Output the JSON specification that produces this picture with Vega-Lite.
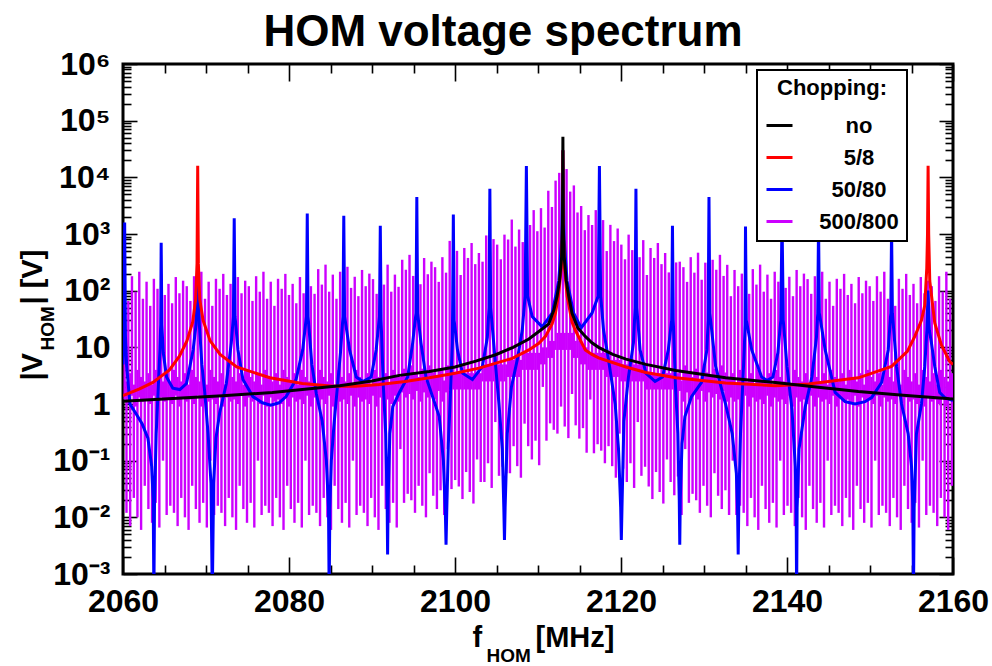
{
"$schema":"https://vega.github.io/schema/vega-lite/v6.json",
"width":830,"height":510,
"autosize":{"type":"none"},
"padding":{"left":123,"top":64,"right":39,"bottom":92},
"background":"white",
"title":{"text":"HOM voltage spectrum","fontSize":44,"fontWeight":"bold","font":"Liberation Sans","color":"black","anchor":"middle","frame":"group","dx":-35,"offset":-42,"baseline":"alphabetic"},
"config":{
"font":"Liberation Sans",
"view":{"stroke":"black","strokeWidth":3},
"axis":{"grid":false,"domain":false,"tickColor":"black","tickWidth":1.6,"labelFont":"Liberation Sans","labelFontWeight":"bold","labelColor":"black","labelFontSize":32,"titleFont":"Liberation Sans","titleFontWeight":"bold","titleColor":"black","labelFlush":false,"labelOverlap":false,"labelBound":false,"titlePadding":0}
},
"resolve":{"axis":{"x":"independent","y":"independent"}},
"datasets":{
"p500":[
{"f":2060.2,"lo":1.2,"hi":120},{"f":2060.42,"lo":0.012,"hi":2.5},
{"f":2060.64,"lo":1.0,"hi":66},{"f":2060.86,"lo":0.007,"hi":3.5},
{"f":2061.08,"lo":1.4,"hi":180},{"f":2061.3,"lo":0.022,"hi":2.2},
{"f":2061.52,"lo":0.9,"hi":96},{"f":2061.74,"lo":0.01,"hi":4},
{"f":2061.96,"lo":1.3,"hi":216},{"f":2062.18,"lo":0.006,"hi":3},
{"f":2062.4,"lo":1.1,"hi":72},{"f":2062.62,"lo":0.036,"hi":2.5},
{"f":2062.84,"lo":1.2,"hi":144},{"f":2063.06,"lo":0.014,"hi":3.5},
{"f":2063.28,"lo":1.0,"hi":54},{"f":2063.5,"lo":0.008,"hi":2.2},
{"f":2063.72,"lo":1.4,"hi":162},{"f":2063.94,"lo":0.018,"hi":4},
{"f":2064.16,"lo":0.9,"hi":108},{"f":2064.38,"lo":0.0066,"hi":3},
{"f":2064.6,"lo":1.3,"hi":198},{"f":2064.82,"lo":0.1,"hi":2.5},
{"f":2065.04,"lo":1.1,"hi":84},{"f":2065.26,"lo":0.011,"hi":3.5},
{"f":2065.48,"lo":1.2,"hi":132},{"f":2065.7,"lo":0.016,"hi":2.2},
{"f":2065.92,"lo":1.0,"hi":60},{"f":2066.14,"lo":0.012,"hi":4},
{"f":2066.36,"lo":1.4,"hi":174},{"f":2066.58,"lo":0.007,"hi":3},
{"f":2066.8,"lo":0.9,"hi":90},{"f":2067.02,"lo":0.022,"hi":2.5},
{"f":2067.24,"lo":1.3,"hi":150},{"f":2067.46,"lo":0.01,"hi":3.5},
{"f":2067.68,"lo":1.1,"hi":120},{"f":2067.9,"lo":0.006,"hi":2.2},
{"f":2068.12,"lo":1.2,"hi":66},{"f":2068.34,"lo":0.036,"hi":4},
{"f":2068.56,"lo":1.0,"hi":180},{"f":2068.78,"lo":0.014,"hi":3},
{"f":2069,"lo":1.4,"hi":96},{"f":2069.22,"lo":0.008,"hi":2.5},
{"f":2069.44,"lo":0.9,"hi":216},{"f":2069.66,"lo":0.018,"hi":3.5},
{"f":2069.88,"lo":1.3,"hi":72},{"f":2070.1,"lo":0.0066,"hi":2.2},
{"f":2070.32,"lo":1.1,"hi":144},{"f":2070.54,"lo":0.1,"hi":4},
{"f":2070.76,"lo":1.2,"hi":54},{"f":2070.98,"lo":0.011,"hi":3},
{"f":2071.2,"lo":1.0,"hi":162},{"f":2071.42,"lo":0.016,"hi":2.5},
{"f":2071.64,"lo":1.4,"hi":108},{"f":2071.86,"lo":0.012,"hi":3.5},
{"f":2072.08,"lo":0.9,"hi":198},{"f":2072.3,"lo":0.007,"hi":2.2},
{"f":2072.52,"lo":1.3,"hi":84},{"f":2072.74,"lo":0.022,"hi":4},
{"f":2072.96,"lo":1.1,"hi":132},{"f":2073.18,"lo":0.01,"hi":3},
{"f":2073.4,"lo":1.2,"hi":60},{"f":2073.62,"lo":0.006,"hi":2.5},
{"f":2073.84,"lo":1.0,"hi":174},{"f":2074.06,"lo":0.036,"hi":3.5},
{"f":2074.28,"lo":1.4,"hi":90},{"f":2074.5,"lo":0.014,"hi":2.2},
{"f":2074.72,"lo":0.9,"hi":150},{"f":2074.94,"lo":0.008,"hi":4},
{"f":2075.16,"lo":1.3,"hi":120},{"f":2075.38,"lo":0.018,"hi":3},
{"f":2075.6,"lo":1.1,"hi":66},{"f":2075.82,"lo":0.0066,"hi":2.5},
{"f":2076.04,"lo":1.2,"hi":180},{"f":2076.26,"lo":0.1,"hi":3.5},
{"f":2076.48,"lo":1.0,"hi":96},{"f":2076.7,"lo":0.011,"hi":2.2},
{"f":2076.92,"lo":1.4,"hi":216},{"f":2077.14,"lo":0.016,"hi":4},
{"f":2077.36,"lo":0.9,"hi":72},{"f":2077.58,"lo":0.012,"hi":3},
{"f":2077.8,"lo":1.3,"hi":144},{"f":2078.02,"lo":0.007,"hi":2.5},
{"f":2078.24,"lo":1.1,"hi":54},{"f":2078.46,"lo":0.022,"hi":3.5},
{"f":2078.68,"lo":1.2,"hi":162},{"f":2078.9,"lo":0.01,"hi":2.2},
{"f":2079.12,"lo":1.0,"hi":108},{"f":2079.34,"lo":0.006,"hi":4},
{"f":2079.56,"lo":1.4,"hi":198},{"f":2079.78,"lo":0.036,"hi":3},
{"f":2080,"lo":0.9,"hi":84},{"f":2080.22,"lo":0.014,"hi":2.5},
{"f":2080.44,"lo":1.3,"hi":132},{"f":2080.66,"lo":0.008,"hi":3.5},
{"f":2080.88,"lo":1.1,"hi":60},{"f":2081.1,"lo":0.018,"hi":2.2},
{"f":2081.32,"lo":1.2,"hi":174},{"f":2081.54,"lo":0.0066,"hi":4},
{"f":2081.76,"lo":1.0,"hi":90},{"f":2081.98,"lo":0.1,"hi":3},
{"f":2082.2,"lo":1.4,"hi":150},{"f":2082.42,"lo":0.011,"hi":2.5},
{"f":2082.64,"lo":0.9,"hi":120},{"f":2082.86,"lo":0.016,"hi":3.5},
{"f":2083.08,"lo":1.3,"hi":88},{"f":2083.3,"lo":0.012,"hi":2.2},
{"f":2083.52,"lo":1.1,"hi":240},{"f":2083.74,"lo":0.007,"hi":4},
{"f":2083.96,"lo":1.2,"hi":128},{"f":2084.18,"lo":0.022,"hi":3},
{"f":2084.4,"lo":1.0,"hi":288},{"f":2084.62,"lo":0.01,"hi":2.5},
{"f":2084.84,"lo":1.4,"hi":96},{"f":2085.06,"lo":0.006,"hi":3.5},
{"f":2085.28,"lo":0.9,"hi":192},{"f":2085.5,"lo":0.036,"hi":2.2},
{"f":2085.72,"lo":1.3,"hi":72},{"f":2085.94,"lo":0.014,"hi":4},
{"f":2086.16,"lo":1.1,"hi":216},{"f":2086.38,"lo":0.008,"hi":3},
{"f":2086.6,"lo":1.2,"hi":144},{"f":2086.82,"lo":0.018,"hi":2.5},
{"f":2087.04,"lo":1.0,"hi":264},{"f":2087.26,"lo":0.0066,"hi":3.5},
{"f":2087.48,"lo":1.4,"hi":112},{"f":2087.7,"lo":0.1,"hi":2.2},
{"f":2087.92,"lo":0.9,"hi":176},{"f":2088.14,"lo":0.011,"hi":4},
{"f":2088.36,"lo":1.3,"hi":80},{"f":2088.58,"lo":0.016,"hi":3},
{"f":2088.8,"lo":1.1,"hi":232},{"f":2089.02,"lo":0.012,"hi":2.5},
{"f":2089.24,"lo":1.2,"hi":120},{"f":2089.46,"lo":0.007,"hi":3.5},
{"f":2089.68,"lo":1.0,"hi":200},{"f":2089.9,"lo":0.022,"hi":2.2},
{"f":2090.12,"lo":1.4,"hi":160},{"f":2090.34,"lo":0.01,"hi":4},
{"f":2090.56,"lo":0.9,"hi":88},{"f":2090.78,"lo":0.006,"hi":3},
{"f":2091,"lo":1.3,"hi":240},{"f":2091.22,"lo":0.036,"hi":2.5},
{"f":2091.44,"lo":1.1,"hi":128},{"f":2091.66,"lo":0.014,"hi":3.5},
{"f":2091.88,"lo":1.2,"hi":288},{"f":2092.1,"lo":0.008,"hi":2.2},
{"f":2092.32,"lo":1.0,"hi":96},{"f":2092.54,"lo":0.018,"hi":4},
{"f":2092.76,"lo":1.4,"hi":192},{"f":2092.98,"lo":0.0066,"hi":3},
{"f":2093.2,"lo":1.1,"hi":117},{"f":2093.42,"lo":0.16,"hi":3},
{"f":2093.64,"lo":1.6,"hi":351},{"f":2093.86,"lo":0.018,"hi":4.2},
{"f":2094.08,"lo":1.3,"hi":234},{"f":2094.3,"lo":0.026,"hi":2.6},
{"f":2094.52,"lo":1.5,"hi":429},{"f":2094.74,"lo":0.02,"hi":4.8},
{"f":2094.96,"lo":1.2,"hi":182},{"f":2095.18,"lo":0.012,"hi":3.6},
{"f":2095.4,"lo":1.7,"hi":286},{"f":2095.62,"lo":0.036,"hi":3},
{"f":2095.84,"lo":1.1,"hi":130},{"f":2096.06,"lo":0.016,"hi":4.2},
{"f":2096.28,"lo":1.6,"hi":377},{"f":2096.5,"lo":0.01,"hi":2.6},
{"f":2096.72,"lo":1.3,"hi":195},{"f":2096.94,"lo":0.06,"hi":4.8},
{"f":2097.16,"lo":1.5,"hi":325},{"f":2097.38,"lo":0.024,"hi":3.6},
{"f":2097.6,"lo":1.2,"hi":260},{"f":2097.82,"lo":0.014,"hi":3},
{"f":2098.04,"lo":1.7,"hi":143},{"f":2098.26,"lo":0.03,"hi":4.2},
{"f":2098.48,"lo":1.1,"hi":390},{"f":2098.7,"lo":0.011,"hi":2.6},
{"f":2098.92,"lo":1.6,"hi":208},{"f":2099.14,"lo":0.16,"hi":4.8},
{"f":2099.36,"lo":1.8,"hi":756},{"f":2099.58,"lo":0.0315,"hi":3.5},
{"f":2099.8,"lo":1.8,"hi":252},{"f":2100.02,"lo":0.0455,"hi":3.5},
{"f":2100.24,"lo":1.8,"hi":504},{"f":2100.46,"lo":0.035,"hi":3.5},
{"f":2100.68,"lo":1.8,"hi":189},{"f":2100.9,"lo":0.021,"hi":3.5},
{"f":2101.12,"lo":1.8,"hi":567},{"f":2101.34,"lo":0.063,"hi":3.5},
{"f":2101.56,"lo":1.8,"hi":378},{"f":2101.78,"lo":0.028,"hi":3.5},
{"f":2102,"lo":1.8,"hi":693},{"f":2102.22,"lo":0.0175,"hi":3.5},
{"f":2102.44,"lo":1.8,"hi":294},{"f":2102.66,"lo":0.105,"hi":3.5},
{"f":2102.88,"lo":1.8,"hi":462},{"f":2103.1,"lo":0.042,"hi":3.5},
{"f":2103.32,"lo":2.5,"hi":325},{"f":2103.54,"lo":0.042,"hi":5},
{"f":2103.76,"lo":2.5,"hi":943},{"f":2103.98,"lo":0.09,"hi":5},
{"f":2104.2,"lo":2.5,"hi":488},{"f":2104.42,"lo":0.033,"hi":5},
{"f":2104.64,"lo":2.5,"hi":813},{"f":2104.86,"lo":0.48,"hi":5},
{"f":2105.08,"lo":2.5,"hi":650},{"f":2105.3,"lo":0.054,"hi":5},
{"f":2105.52,"lo":2.5,"hi":358},{"f":2105.74,"lo":0.078,"hi":5},
{"f":2105.96,"lo":2.5,"hi":975},{"f":2106.18,"lo":0.06,"hi":5},
{"f":2106.4,"lo":3,"hi":800},{"f":2106.62,"lo":0.06,"hi":6},
{"f":2106.84,"lo":3,"hi":1800},{"f":2107.06,"lo":0.18,"hi":6},
{"f":2107.28,"lo":3,"hi":600},{"f":2107.5,"lo":0.08,"hi":6},
{"f":2107.72,"lo":3,"hi":1200},{"f":2107.94,"lo":0.05,"hi":6},
{"f":2108.16,"lo":4,"hi":720},{"f":2108.38,"lo":0.45,"hi":8},
{"f":2108.6,"lo":4,"hi":2160},{"f":2108.82,"lo":0.18,"hi":8},
{"f":2109.04,"lo":4,"hi":1440},{"f":2109.26,"lo":0.105,"hi":8},
{"f":2109.48,"lo":4,"hi":2640},{"f":2109.7,"lo":0.225,"hi":8},
{"f":2109.92,"lo":4,"hi":1120},{"f":2110.14,"lo":0.083,"hi":8},
{"f":2110.36,"lo":5,"hi":2860},{"f":2110.58,"lo":2,"hi":10},
{"f":2110.8,"lo":5,"hi":1300},{"f":2111.02,"lo":0.225,"hi":10},
{"f":2111.24,"lo":6.5,"hi":5800},{"f":2111.46,"lo":0.455,"hi":13},
{"f":2111.68,"lo":6.5,"hi":3000},{"f":2111.9,"lo":0.35,"hi":13},
{"f":2112.12,"lo":9,"hi":8750},{"f":2112.34,"lo":0.3,"hi":18},
{"f":2112.56,"lo":9,"hi":12000},{"f":2112.78,"lo":0.9,"hi":18},
{"f":2113,"lo":9,"hi":16000},{"f":2113.22,"lo":0.4,"hi":18},
{"f":2113.44,"lo":9,"hi":14000},{"f":2113.66,"lo":0.25,"hi":18},
{"f":2113.88,"lo":9,"hi":5600},{"f":2114.1,"lo":1.5,"hi":18},
{"f":2114.32,"lo":6.5,"hi":7200},{"f":2114.54,"lo":0.42,"hi":13},
{"f":2114.76,"lo":6.5,"hi":2400},{"f":2114.98,"lo":0.245,"hi":13},
{"f":2115.2,"lo":5,"hi":3120},{"f":2115.42,"lo":0.375,"hi":10},
{"f":2115.64,"lo":5,"hi":1170},{"f":2115.86,"lo":0.138,"hi":10},
{"f":2116.08,"lo":4,"hi":2160},{"f":2116.3,"lo":1.2,"hi":8},
{"f":2116.52,"lo":4,"hi":1440},{"f":2116.74,"lo":0.135,"hi":8},
{"f":2116.96,"lo":4,"hi":2640},{"f":2117.18,"lo":0.195,"hi":8},
{"f":2117.4,"lo":4,"hi":1120},{"f":2117.62,"lo":0.15,"hi":8},
{"f":2117.84,"lo":4,"hi":1760},{"f":2118.06,"lo":0.09,"hi":8},
{"f":2118.28,"lo":3,"hi":500},{"f":2118.5,"lo":0.18,"hi":6},
{"f":2118.72,"lo":3,"hi":1450},{"f":2118.94,"lo":0.08,"hi":6},
{"f":2119.16,"lo":3,"hi":750},{"f":2119.38,"lo":0.05,"hi":6},
{"f":2119.6,"lo":3,"hi":1250},{"f":2119.82,"lo":0.3,"hi":6},
{"f":2120.04,"lo":2.5,"hi":650},{"f":2120.26,"lo":0.072,"hi":5},
{"f":2120.48,"lo":2.5,"hi":358},{"f":2120.7,"lo":0.042,"hi":5},
{"f":2120.92,"lo":2.5,"hi":975},{"f":2121.14,"lo":0.09,"hi":5},
{"f":2121.36,"lo":2.5,"hi":520},{"f":2121.58,"lo":0.033,"hi":5},
{"f":2121.8,"lo":2.5,"hi":1170},{"f":2122.02,"lo":0.48,"hi":5},
{"f":2122.24,"lo":2.5,"hi":390},{"f":2122.46,"lo":0.054,"hi":5},
{"f":2122.68,"lo":2.5,"hi":780},{"f":2122.9,"lo":0.078,"hi":5},
{"f":2123.12,"lo":1.8,"hi":189},{"f":2123.34,"lo":0.035,"hi":3.5},
{"f":2123.56,"lo":1.8,"hi":567},{"f":2123.78,"lo":0.021,"hi":3.5},
{"f":2124,"lo":1.8,"hi":378},{"f":2124.22,"lo":0.063,"hi":3.5},
{"f":2124.44,"lo":1.8,"hi":693},{"f":2124.66,"lo":0.028,"hi":3.5},
{"f":2124.88,"lo":1.8,"hi":294},{"f":2125.1,"lo":0.0175,"hi":3.5},
{"f":2125.32,"lo":1.8,"hi":462},{"f":2125.54,"lo":0.105,"hi":3.5},
{"f":2125.76,"lo":1.8,"hi":210},{"f":2125.98,"lo":0.042,"hi":3.5},
{"f":2126.2,"lo":1.8,"hi":609},{"f":2126.42,"lo":0.0245,"hi":3.5},
{"f":2126.64,"lo":1.8,"hi":315},{"f":2126.86,"lo":0.0525,"hi":3.5},
{"f":2127.08,"lo":1.7,"hi":325},{"f":2127.3,"lo":0.011,"hi":2.6},
{"f":2127.52,"lo":1.1,"hi":260},{"f":2127.74,"lo":0.16,"hi":4.8},
{"f":2127.96,"lo":1.6,"hi":143},{"f":2128.18,"lo":0.018,"hi":3.6},
{"f":2128.4,"lo":1.3,"hi":390},{"f":2128.62,"lo":0.026,"hi":3},
{"f":2128.84,"lo":1.5,"hi":208},{"f":2129.06,"lo":0.02,"hi":4.2},
{"f":2129.28,"lo":1.2,"hi":468},{"f":2129.5,"lo":0.012,"hi":2.6},
{"f":2129.72,"lo":1.7,"hi":156},{"f":2129.94,"lo":0.036,"hi":4.8},
{"f":2130.16,"lo":1.1,"hi":312},{"f":2130.38,"lo":0.016,"hi":3.6},
{"f":2130.6,"lo":1.6,"hi":117},{"f":2130.82,"lo":0.01,"hi":3},
{"f":2131.04,"lo":1.3,"hi":351},{"f":2131.26,"lo":0.06,"hi":4.2},
{"f":2131.48,"lo":1.5,"hi":234},{"f":2131.7,"lo":0.024,"hi":2.6},
{"f":2131.92,"lo":1.2,"hi":429},{"f":2132.14,"lo":0.014,"hi":4.8},
{"f":2132.36,"lo":1.7,"hi":182},{"f":2132.58,"lo":0.03,"hi":3.6},
{"f":2132.8,"lo":1.1,"hi":286},{"f":2133.02,"lo":0.011,"hi":3},
{"f":2133.24,"lo":1.3,"hi":80},{"f":2133.46,"lo":0.1,"hi":3.5},
{"f":2133.68,"lo":1.1,"hi":232},{"f":2133.9,"lo":0.011,"hi":2.2},
{"f":2134.12,"lo":1.2,"hi":120},{"f":2134.34,"lo":0.016,"hi":4},
{"f":2134.56,"lo":1.0,"hi":200},{"f":2134.78,"lo":0.012,"hi":3},
{"f":2135,"lo":1.4,"hi":160},{"f":2135.22,"lo":0.007,"hi":2.5},
{"f":2135.44,"lo":0.9,"hi":88},{"f":2135.66,"lo":0.022,"hi":3.5},
{"f":2135.88,"lo":1.3,"hi":240},{"f":2136.1,"lo":0.01,"hi":2.2},
{"f":2136.32,"lo":1.1,"hi":128},{"f":2136.54,"lo":0.006,"hi":4},
{"f":2136.76,"lo":1.2,"hi":288},{"f":2136.98,"lo":0.036,"hi":3},
{"f":2137.2,"lo":1.0,"hi":96},{"f":2137.42,"lo":0.014,"hi":2.5},
{"f":2137.64,"lo":1.4,"hi":192},{"f":2137.86,"lo":0.008,"hi":3.5},
{"f":2138.08,"lo":0.9,"hi":72},{"f":2138.3,"lo":0.018,"hi":2.2},
{"f":2138.52,"lo":1.3,"hi":216},{"f":2138.74,"lo":0.0066,"hi":4},
{"f":2138.96,"lo":1.1,"hi":144},{"f":2139.18,"lo":0.1,"hi":3},
{"f":2139.4,"lo":1.2,"hi":264},{"f":2139.62,"lo":0.011,"hi":2.5},
{"f":2139.84,"lo":1.0,"hi":112},{"f":2140.06,"lo":0.016,"hi":3.5},
{"f":2140.28,"lo":1.4,"hi":176},{"f":2140.5,"lo":0.012,"hi":2.2},
{"f":2140.72,"lo":0.9,"hi":80},{"f":2140.94,"lo":0.007,"hi":4},
{"f":2141.16,"lo":1.3,"hi":232},{"f":2141.38,"lo":0.022,"hi":3},
{"f":2141.6,"lo":1.1,"hi":120},{"f":2141.82,"lo":0.01,"hi":2.5},
{"f":2142.04,"lo":1.2,"hi":200},{"f":2142.26,"lo":0.006,"hi":3.5},
{"f":2142.48,"lo":1.0,"hi":160},{"f":2142.7,"lo":0.036,"hi":2.2},
{"f":2142.92,"lo":1.4,"hi":88},{"f":2143.14,"lo":0.014,"hi":4},
{"f":2143.36,"lo":0.9,"hi":180},{"f":2143.58,"lo":0.008,"hi":3},
{"f":2143.8,"lo":1.3,"hi":96},{"f":2144.02,"lo":0.018,"hi":2.5},
{"f":2144.24,"lo":1.1,"hi":216},{"f":2144.46,"lo":0.0066,"hi":3.5},
{"f":2144.68,"lo":1.2,"hi":72},{"f":2144.9,"lo":0.1,"hi":2.2},
{"f":2145.12,"lo":1.0,"hi":144},{"f":2145.34,"lo":0.011,"hi":4},
{"f":2145.56,"lo":1.4,"hi":54},{"f":2145.78,"lo":0.016,"hi":3},
{"f":2146,"lo":0.9,"hi":162},{"f":2146.22,"lo":0.012,"hi":2.5},
{"f":2146.44,"lo":1.3,"hi":108},{"f":2146.66,"lo":0.007,"hi":3.5},
{"f":2146.88,"lo":1.1,"hi":198},{"f":2147.1,"lo":0.022,"hi":2.2},
{"f":2147.32,"lo":1.2,"hi":84},{"f":2147.54,"lo":0.01,"hi":4},
{"f":2147.76,"lo":1.0,"hi":132},{"f":2147.98,"lo":0.006,"hi":3},
{"f":2148.2,"lo":1.4,"hi":60},{"f":2148.42,"lo":0.036,"hi":2.5},
{"f":2148.64,"lo":0.9,"hi":174},{"f":2148.86,"lo":0.014,"hi":3.5},
{"f":2149.08,"lo":1.3,"hi":90},{"f":2149.3,"lo":0.008,"hi":2.2},
{"f":2149.52,"lo":1.1,"hi":150},{"f":2149.74,"lo":0.018,"hi":4},
{"f":2149.96,"lo":1.2,"hi":120},{"f":2150.18,"lo":0.0066,"hi":3},
{"f":2150.4,"lo":1.0,"hi":66},{"f":2150.62,"lo":0.1,"hi":2.5},
{"f":2150.84,"lo":1.4,"hi":180},{"f":2151.06,"lo":0.011,"hi":3.5},
{"f":2151.28,"lo":0.9,"hi":96},{"f":2151.5,"lo":0.016,"hi":2.2},
{"f":2151.72,"lo":1.3,"hi":216},{"f":2151.94,"lo":0.012,"hi":4},
{"f":2152.16,"lo":1.1,"hi":72},{"f":2152.38,"lo":0.007,"hi":3},
{"f":2152.6,"lo":1.2,"hi":144},{"f":2152.82,"lo":0.022,"hi":2.5},
{"f":2153.04,"lo":1.0,"hi":54},{"f":2153.26,"lo":0.01,"hi":3.5},
{"f":2153.48,"lo":1.4,"hi":162},{"f":2153.7,"lo":0.006,"hi":2.2},
{"f":2153.92,"lo":0.9,"hi":108},{"f":2154.14,"lo":0.036,"hi":4},
{"f":2154.36,"lo":1.3,"hi":198},{"f":2154.58,"lo":0.014,"hi":3},
{"f":2154.8,"lo":1.1,"hi":84},{"f":2155.02,"lo":0.008,"hi":2.5},
{"f":2155.24,"lo":1.2,"hi":132},{"f":2155.46,"lo":0.018,"hi":3.5},
{"f":2155.68,"lo":1.0,"hi":60},{"f":2155.9,"lo":0.0066,"hi":2.2},
{"f":2156.12,"lo":1.4,"hi":174},{"f":2156.34,"lo":0.1,"hi":4},
{"f":2156.56,"lo":0.9,"hi":90},{"f":2156.78,"lo":0.011,"hi":3},
{"f":2157,"lo":1.3,"hi":150},{"f":2157.22,"lo":0.016,"hi":2.5},
{"f":2157.44,"lo":1.1,"hi":120},{"f":2157.66,"lo":0.012,"hi":3.5},
{"f":2157.88,"lo":1.2,"hi":66},{"f":2158.1,"lo":0.007,"hi":2.2},
{"f":2158.32,"lo":1.0,"hi":180},{"f":2158.54,"lo":0.022,"hi":4},
{"f":2158.76,"lo":1.4,"hi":96},{"f":2158.98,"lo":0.01,"hi":3},
{"f":2159.2,"lo":0.9,"hi":216},{"f":2159.42,"lo":0.006,"hi":2.5},
{"f":2159.64,"lo":1.3,"hi":72},{"f":2159.86,"lo":0.036,"hi":3.5}
],
"p50":[
{"f":2060,"v":5},{"f":2060.1,"v":20},{"f":2060.2,"v":1600},{"f":2060.3,"v":15},{"f":2060.44,"v":4.6},{"f":2060.84,"v":1.0},{"f":2061.5,"v":0.7},{"f":2062.3,"v":0.45},{"f":2063,"v":0.25},{"f":2063.45,"v":0.08},{"f":2063.64,"v":0.02},{"f":2063.72,"v":0.0004},{"f":2063.8,"v":0.02},{"f":2064,"v":0.3},{"f":2064.25,"v":2},{"f":2064.45,"v":9},{"f":2064.54,"v":25},{"f":2064.6,"v":700},{"f":2064.68,"v":25},{"f":2064.85,"v":8},
{"f":2065.25,"v":3},{"f":2066,"v":1.9},{"f":2066.85,"v":1.8},{"f":2067.65,"v":2.3},{"f":2068.45,"v":9},{"f":2068.8,"v":25},{"f":2069,"v":150},{"f":2069.2,"v":25},
{"f":2069.5,"v":5},{"f":2069.85,"v":1.6},{"f":2070.25,"v":0.3},{"f":2070.6,"v":0.04},{"f":2070.76,"v":0.0004},{"f":2070.92,"v":0.04},{"f":2071.2,"v":0.25},{"f":2071.65,"v":0.7},{"f":2072.45,"v":2.3},{"f":2073.05,"v":12},{"f":2073.3,"v":35},{"f":2073.4,"v":1900},{"f":2073.5,"v":35},
{"f":2073.85,"v":9},{"f":2074.45,"v":2.7},{"f":2075.65,"v":1.35},{"f":2076.8,"v":1.05},{"f":2077.8,"v":0.95},{"f":2078.8,"v":1.05},{"f":2079.65,"v":1.35},{"f":2080.85,"v":2.7},{"f":2081.65,"v":9},{"f":2082.1,"v":35},{"f":2082.2,"v":2300},{"f":2082.3,"v":35},
{"f":2082.75,"v":5},{"f":2083.3,"v":1.5},{"f":2084,"v":0.5},{"f":2084.5,"v":0.1},{"f":2084.76,"v":0.015},{"f":2084.84,"v":0.0004},{"f":2084.92,"v":0.015},{"f":2085.1,"v":0.1},{"f":2085.4,"v":0.4},{"f":2085.8,"v":1.8},{"f":2086.2,"v":8},{"f":2086.5,"v":35},{"f":2086.6,"v":2100},{"f":2086.7,"v":35},
{"f":2087.3,"v":9},{"f":2088.1,"v":3},{"f":2088.9,"v":2.5},{"f":2089.9,"v":3},{"f":2090.5,"v":9},{"f":2090.9,"v":35},{"f":2091,"v":1400},{"f":2091.1,"v":30},
{"f":2091.35,"v":2.3},{"f":2091.65,"v":0.3},{"f":2091.82,"v":0.02},{"f":2091.88,"v":0.0022},{"f":2091.94,"v":0.02},{"f":2092.15,"v":0.3},{"f":2092.5,"v":0.9},{"f":2093.3,"v":1.6},{"f":2094.3,"v":3},{"f":2094.9,"v":12},{"f":2095.3,"v":40},{"f":2095.4,"v":4500},{"f":2095.5,"v":40},
{"f":2095.9,"v":12},{"f":2096.5,"v":3},{"f":2097.3,"v":1.35},{"f":2098.1,"v":0.6},{"f":2098.6,"v":0.1},{"f":2098.84,"v":0.012},{"f":2098.92,"v":0.0033},{"f":2099,"v":0.012},{"f":2099.2,"v":0.2},{"f":2099.45,"v":1.5},{"f":2099.68,"v":12},{"f":2099.8,"v":2200},{"f":2099.9,"v":30},
{"f":2100.3,"v":9},{"f":2100.9,"v":3.5},{"f":2102.1,"v":2.7},{"f":2103.3,"v":4.6},{"f":2103.9,"v":15},{"f":2104.1,"v":50},{"f":2104.2,"v":6300},{"f":2104.3,"v":50},
{"f":2104.9,"v":4.6},{"f":2105.3,"v":1.0},{"f":2105.7,"v":0.16},{"f":2105.88,"v":0.015},{"f":2105.96,"v":0.004},{"f":2106.04,"v":0.015},{"f":2106.3,"v":0.3},{"f":2106.8,"v":2},{"f":2107.5,"v":6},{"f":2108.1,"v":20},{"f":2108.45,"v":80},{"f":2108.6,"v":15800},{"f":2108.75,"v":80},
{"f":2109.3,"v":35},{"f":2110.5,"v":23},{"f":2111.7,"v":40},{"f":2112.5,"v":150},{"f":2112.85,"v":800},{"f":2113,"v":30000},{"f":2113.15,"v":800},{"f":2113.5,"v":150},{"f":2114.3,"v":40},{"f":2115.2,"v":22},{"f":2116.5,"v":40},{"f":2117.25,"v":80},{"f":2117.4,"v":15800},{"f":2117.55,"v":80},
{"f":2117.9,"v":20},{"f":2118.5,"v":6},{"f":2119.3,"v":1.0},{"f":2119.7,"v":0.16},{"f":2119.96,"v":0.015},{"f":2120.04,"v":0.004},{"f":2120.12,"v":0.015},{"f":2120.35,"v":0.5},{"f":2120.9,"v":3},{"f":2121.5,"v":12},{"f":2121.7,"v":50},{"f":2121.8,"v":6300},{"f":2121.9,"v":50},
{"f":2122.3,"v":9},{"f":2123,"v":3.5},{"f":2124.1,"v":2.5},{"f":2125,"v":3},{"f":2125.7,"v":9},{"f":2126.1,"v":30},{"f":2126.2,"v":1400},{"f":2126.3,"v":30},
{"f":2126.55,"v":2.3},{"f":2126.85,"v":0.3},{"f":2127.02,"v":0.02},{"f":2127.08,"v":0.0033},{"f":2127.14,"v":0.02},{"f":2127.35,"v":0.2},{"f":2127.7,"v":0.6},{"f":2128.5,"v":1.35},{"f":2129.7,"v":2.4},{"f":2130.35,"v":9},{"f":2130.5,"v":30},{"f":2130.6,"v":4500},{"f":2130.7,"v":40},
{"f":2131.4,"v":4.6},{"f":2132.6,"v":1.0},{"f":2133.4,"v":0.3},{"f":2133.9,"v":0.06},{"f":2134.04,"v":0.015},{"f":2134.12,"v":0.0022},{"f":2134.2,"v":0.02},{"f":2134.4,"v":0.3},{"f":2134.65,"v":2},{"f":2134.85,"v":9},{"f":2134.94,"v":25},{"f":2135,"v":1350},{"f":2135.1,"v":30},
{"f":2135.75,"v":9},{"f":2136.95,"v":3},{"f":2137.6,"v":2.6},{"f":2138.3,"v":3},{"f":2138.9,"v":8},{"f":2139.25,"v":30},{"f":2139.4,"v":2000},{"f":2139.55,"v":30},
{"f":2140,"v":4.6},{"f":2140.6,"v":0.8},{"f":2141,"v":0.08},{"f":2141.1,"v":0.015},{"f":2141.16,"v":0.0004},{"f":2141.22,"v":0.015},{"f":2141.45,"v":0.16},{"f":2142.2,"v":0.9},{"f":2143,"v":3},{"f":2143.55,"v":15},{"f":2143.7,"v":40},{"f":2143.8,"v":1500},{"f":2143.9,"v":40},
{"f":2144.6,"v":9},{"f":2145.8,"v":1.6},{"f":2147,"v":1.1},{"f":2148.2,"v":1.0},{"f":2149.4,"v":1.1},{"f":2150.2,"v":1.3},{"f":2151.4,"v":2.4},{"f":2152.2,"v":9},{"f":2152.5,"v":40},{"f":2152.6,"v":1200},{"f":2152.7,"v":40},
{"f":2153.2,"v":4.6},{"f":2153.8,"v":1.0},{"f":2154.6,"v":0.3},{"f":2155,"v":0.08},{"f":2155.16,"v":0.015},{"f":2155.24,"v":0.0004},{"f":2155.32,"v":0.015},{"f":2155.6,"v":0.3},{"f":2156.2,"v":1.0},{"f":2156.6,"v":4.6},{"f":2156.85,"v":20},{"f":2157,"v":100},{"f":2157.15,"v":20},
{"f":2157.4,"v":12},{"f":2157.8,"v":4.6},{"f":2158.4,"v":1.6},{"f":2159,"v":1.3},{"f":2160,"v":1.15}
],
"p5":[
{"f":2060,"v":1.4},{"f":2062,"v":1.85},{"f":2063.6,"v":2.4},{"f":2065.6,"v":4},{"f":2066.8,"v":7},{"f":2067.7,"v":13},{"f":2068.4,"v":28},{"f":2068.75,"v":70},{"f":2068.92,"v":300},{"f":2069,"v":16000},{"f":2069.08,"v":300},{"f":2069.25,"v":70},{"f":2069.65,"v":30},{"f":2070.5,"v":13},{"f":2071.7,"v":7.5},{"f":2073.7,"v":4.5},{"f":2077.7,"v":2.9},{"f":2081.6,"v":2.3},{"f":2085.3,"v":2.05},{"f":2088,"v":2.05},{"f":2090.9,"v":2.2},{"f":2094,"v":2.5},{"f":2096.9,"v":2.9},{"f":2100,"v":3.5},{"f":2102.9,"v":4.3},{"f":2106.9,"v":6.4},{"f":2108.9,"v":9},{"f":2110.1,"v":11.8},{"f":2110.9,"v":15.6},{"f":2111.7,"v":26},{"f":2112.1,"v":40},{"f":2112.5,"v":90},{"f":2112.8,"v":250},{"f":2112.93,"v":1000},{"f":2113,"v":30000},{"f":2113.07,"v":1000},{"f":2113.2,"v":250},{"f":2113.5,"v":80},{"f":2114.1,"v":28},{"f":2114.5,"v":20},{"f":2115.7,"v":9},{"f":2116.5,"v":7.5},{"f":2117.3,"v":6.5},{"f":2120.6,"v":4.5},{"f":2123,"v":3.6},{"f":2126.6,"v":2.9},{"f":2132.6,"v":2.35},{"f":2138.6,"v":2.1},{"f":2142.6,"v":2.25},{"f":2148.6,"v":2.9},{"f":2152.6,"v":4.6},{"f":2154.5,"v":8.5},{"f":2155.4,"v":15.6},{"f":2156.2,"v":30},{"f":2156.6,"v":55},{"f":2156.84,"v":250},{"f":2156.93,"v":1000},{"f":2157,"v":16000},{"f":2157.07,"v":1000},{"f":2157.2,"v":150},{"f":2157.8,"v":27},{"f":2158.6,"v":11},{"f":2159.6,"v":5.6},{"f":2160,"v":5}
],
"p0":[
{"f":2060,"v":1.12},{"f":2066,"v":1.25},{"f":2072,"v":1.4},{"f":2078,"v":1.6},{"f":2084,"v":1.95},{"f":2086.1,"v":2.1},{"f":2090,"v":2.55},{"f":2093.3,"v":3.2},{"f":2096.9,"v":3.75},{"f":2100,"v":4.5},{"f":2102.5,"v":5.7},{"f":2104.9,"v":7.4},{"f":2107,"v":10},{"f":2108.9,"v":14},{"f":2110.5,"v":21},{"f":2111.3,"v":26},{"f":2111.9,"v":45},{"f":2112.3,"v":80},{"f":2112.6,"v":150},{"f":2112.85,"v":400},{"f":2112.95,"v":1500},{"f":2113,"v":52000},{"f":2113.05,"v":1500},{"f":2113.15,"v":400},{"f":2113.4,"v":150},{"f":2113.7,"v":80},{"f":2114.1,"v":40},{"f":2114.8,"v":22},{"f":2115.7,"v":15.6},{"f":2116.5,"v":12},{"f":2117.3,"v":10},{"f":2119,"v":7.5},{"f":2120.6,"v":6.2},{"f":2123,"v":5},{"f":2126.6,"v":3.9},{"f":2132.6,"v":2.9},{"f":2138.6,"v":2.4},{"f":2143.5,"v":2.0},{"f":2148.6,"v":1.66},{"f":2154,"v":1.43},{"f":2160,"v":1.22}
]
},
"layer":[
{"data":{"name":"p500"},
 "mark":{"type":"rule","clip":true,"strokeWidth":2.4},
 "encoding":{
  "x":{"field":"f","type":"quantitative","scale":{"domain":[2060,2160],"nice":false,"zero":false},
   "axis":{"orient":"bottom","values":[2060,2080,2100,2120,2140,2160],"format":"d","tickSize":-17,"labelPadding":29,"labelBaseline":"top","title":"f","titleFontSize":29,"titleX":349,"titleY":72,"titleAlign":"left","titleBaseline":"alphabetic","titleAngle":0}},
  "y":{"field":"lo","type":"quantitative","scale":{"type":"log","domain":[0.001,1000000],"nice":false},
   "axis":{"orient":"left","values":[0.001,0.01,0.1,1,10,100,1000,10000,100000,1000000],"tickSize":-14,"labelPadding":27,"labelAlign":"right","labelBaseline":"middle",
    "labelExpr":"datum.value == 1 ? '1' : datum.value == 10 ? '10' : '10' + ['⁻³','⁻²','⁻¹','⁰','¹','²','³','⁴','⁵','⁶'][round(log(datum.value)/LN10) + 3]",
    "title":"|V","titleFontSize":29,"titleX":-82,"titleY":316,"titleAngle":270,"titleAlign":"left","titleBaseline":"alphabetic"}},
  "y2":{"field":"hi"},
  "color":{"datum":"500/800","type":"nominal",
   "scale":{"domain":["no","5/8","50/80","500/800"],"range":["#000000","#ff0000","#0000ff","#cc00ff"]},
   "legend":{"orient":"none","legendX":634,"legendY":6,"title":"Chopping:","titleFontSize":22,"titleFontWeight":"bold","titleFont":"Liberation Sans","titleColor":"black","titleAnchor":"middle","titlePadding":11,
    "labelFontSize":22,"labelFontWeight":"bold","labelFont":"Liberation Sans","labelColor":"black","labelAlign":"center","labelOffset":65,
    "symbolType":"stroke","symbolStrokeWidth":3,"symbolSize":676,"rowPadding":6,"padding":8,"fillColor":"white","strokeColor":"black","cornerRadius":0,
    "encode":{"legend":{"update":{"strokeWidth":{"value":2}}}}}}
 }},
{"data":{"name":"p50"},
 "mark":{"type":"line","clip":true,"strokeWidth":3},
 "encoding":{
  "x":{"field":"f","type":"quantitative","scale":{"domain":[2060,2160],"nice":false,"zero":false},
   "axis":{"orient":"bottom","values":[2065,2070,2075,2085,2090,2095,2105,2110,2115,2125,2130,2135,2145,2150,2155],"tickSize":-9,"labels":false,"title":"HOM","titleFontSize":19,"titleX":363,"titleY":87,"titleAlign":"left","titleBaseline":"alphabetic","titleAngle":0}},
  "y":{"field":"v","type":"quantitative","scale":{"type":"log","domain":[0.001,1000000],"nice":false},
   "axis":{"orient":"left","values":[0.002,0.003,0.004,0.005,0.006,0.007,0.008,0.009,0.02,0.03,0.04,0.05,0.06,0.07,0.08,0.09,0.2,0.3,0.4,0.5,0.6,0.7,0.8,0.9,2,3,4,5,6,7,8,9,20,30,40,50,60,70,80,90,200,300,400,500,600,700,800,900,2000,3000,4000,5000,6000,7000,8000,9000,20000,30000,40000,50000,60000,70000,80000,90000,200000,300000,400000,500000,600000,700000,800000,900000],"tickSize":-8,"labels":false,
    "title":"HOM","titleFontSize":19,"titleX":-70,"titleY":286,"titleAngle":270,"titleAlign":"left","titleBaseline":"alphabetic"}},
  "color":{"datum":"50/80","type":"nominal","scale":{"domain":["no","5/8","50/80","500/800"],"range":["#000000","#ff0000","#0000ff","#cc00ff"]}}
 }},
{"data":{"name":"p5"},
 "mark":{"type":"line","clip":true,"strokeWidth":3},
 "encoding":{
  "x":{"field":"f","type":"quantitative","scale":{"domain":[2060,2160],"nice":false,"zero":false},
   "axis":{"orient":"top","values":[2060,2080,2100,2120,2140,2160],"tickSize":-17,"labels":false,"title":"[MHz]","titleFontSize":29,"titleX":412,"titleY":582,"titleAlign":"left","titleBaseline":"alphabetic","titleAngle":0}},
  "y":{"field":"v","type":"quantitative","scale":{"type":"log","domain":[0.001,1000000],"nice":false},
   "axis":{"orient":"right","values":[0.001,0.01,0.1,1,10,100,1000,10000,100000,1000000],"tickSize":-14,"labels":false,
    "title":"| [V]","titleFontSize":29,"titleX":-912,"titleY":240,"titleAngle":270,"titleAlign":"left","titleBaseline":"alphabetic"}},
  "color":{"datum":"5/8","type":"nominal","scale":{"domain":["no","5/8","50/80","500/800"],"range":["#000000","#ff0000","#0000ff","#cc00ff"]}}
 }},
{"data":{"name":"p0"},
 "mark":{"type":"line","clip":true,"strokeWidth":3},
 "encoding":{
  "x":{"field":"f","type":"quantitative","scale":{"domain":[2060,2160],"nice":false,"zero":false},
   "axis":{"orient":"top","values":[2065,2070,2075,2085,2090,2095,2105,2110,2115,2125,2130,2135,2145,2150,2155],"tickSize":-9,"labels":false,"title":null}},
  "y":{"field":"v","type":"quantitative","scale":{"type":"log","domain":[0.001,1000000],"nice":false},
   "axis":{"orient":"right","values":[0.002,0.003,0.004,0.005,0.006,0.007,0.008,0.009,0.02,0.03,0.04,0.05,0.06,0.07,0.08,0.09,0.2,0.3,0.4,0.5,0.6,0.7,0.8,0.9,2,3,4,5,6,7,8,9,20,30,40,50,60,70,80,90,200,300,400,500,600,700,800,900,2000,3000,4000,5000,6000,7000,8000,9000,20000,30000,40000,50000,60000,70000,80000,90000,200000,300000,400000,500000,600000,700000,800000,900000],"tickSize":-8,"labels":false,"title":null}},
  "color":{"datum":"no","type":"nominal","scale":{"domain":["no","5/8","50/80","500/800"],"range":["#000000","#ff0000","#0000ff","#cc00ff"]}}
 }}
]
}
